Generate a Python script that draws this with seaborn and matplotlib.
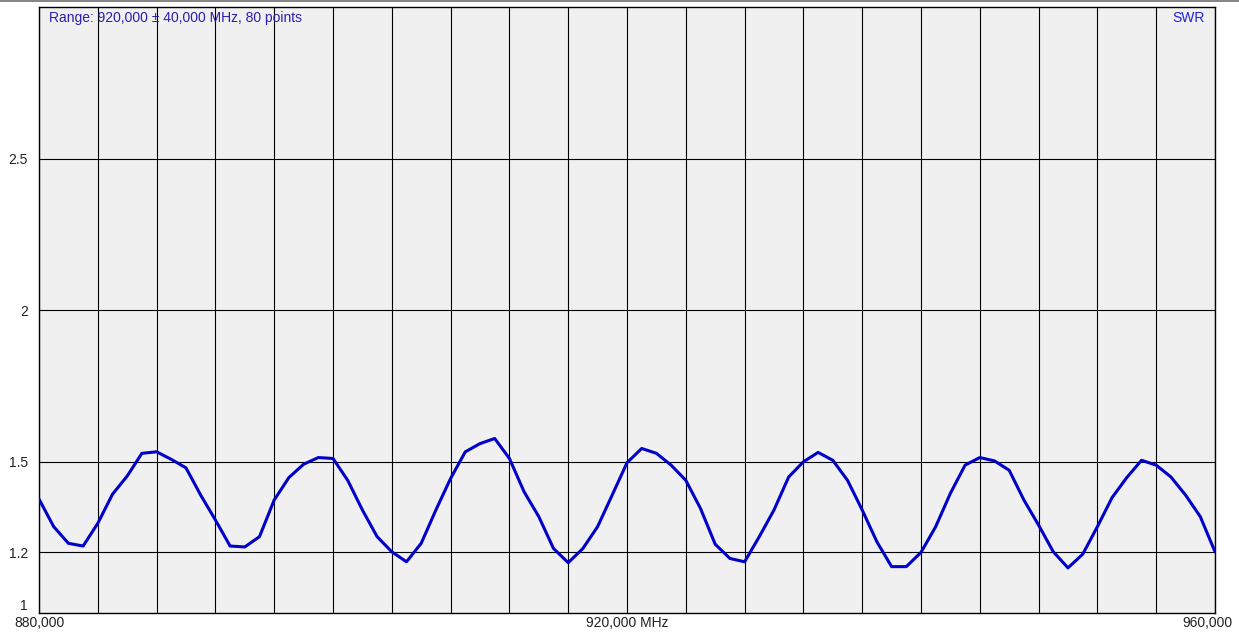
import numpy as np
import pandas as pd
import seaborn as sns
import matplotlib.pyplot as plt
from matplotlib.transforms import ScaledTranslation

# SWR sweep, 880..960 MHz, 1 MHz step (80 points + end)
freq_mhz = list(range(880, 961))
swr = [1.376, 1.285, 1.230, 1.221, 1.296, 1.392, 1.452, 1.527, 1.532, 1.507,
       1.479, 1.389, 1.307, 1.221, 1.218, 1.252, 1.373, 1.447, 1.491, 1.513,
       1.510, 1.438, 1.340, 1.252, 1.202, 1.169, 1.230, 1.340, 1.444, 1.532,
       1.559, 1.576, 1.510, 1.400, 1.318, 1.213, 1.166, 1.213, 1.285, 1.390,
       1.496, 1.543, 1.527, 1.488, 1.438, 1.345, 1.227, 1.180, 1.169, 1.252,
       1.340, 1.449, 1.499, 1.530, 1.504, 1.438, 1.340, 1.235, 1.153, 1.153,
       1.200, 1.285, 1.395, 1.488, 1.513, 1.502, 1.471, 1.373, 1.290, 1.202,
       1.149, 1.194, 1.285, 1.381, 1.447, 1.504, 1.488, 1.449, 1.389, 1.318,
       1.202]

y_ticks = [1, 1.2, 1.5, 2, 2.5]
y_tick_labels = ["1", "1.2", "1.5", "2", "2.5"]
x_ticks = [880, 920, 960]
x_tick_labels = ["880,000", "920,000 MHz", "960,000"]

df = pd.DataFrame({"freq": freq_mhz, "swr": swr})

sns.set_style("white", {"axes.facecolor": "#f0f0f0"})
plt.rcParams["font.family"] = ["Liberation Sans", "DejaVu Sans"]

fig = plt.figure(figsize=(12.39, 6.33), dpi=100)
ax = fig.add_axes([39 / 1239, 20 / 633, (1215 - 39) / 1239, (613 - 7) / 633])

# vertical grid every 4 MHz, horizontal grid at the labelled SWR values
for f in range(880, 961, 4):
    ax.axvline(f, color="black", lw=0.8, zorder=1)
for v in y_ticks[1:]:
    ax.axhline(v, color="black", lw=0.8, zorder=1)

sns.lineplot(data=df, x="freq", y="swr", ax=ax, color="#0000c8", lw=2.2,
             zorder=3)

ax.set_xlim(880, 960)
ax.set_ylim(1, 3)
ax.set_xticks(x_ticks)
ax.set_xticklabels(x_tick_labels, fontsize=10, color="#222222")
ax.set_yticks(y_ticks)
ax.set_yticklabels(y_tick_labels, fontsize=10, color="#222222")
ax.tick_params(axis="x", length=0, pad=2)
ax.tick_params(axis="y", length=0, pad=8)
ax.set_xlabel("")
ax.set_ylabel("")

# first y label sits above the axis, last x label pulled inside
ax.get_yticklabels()[0].set_va("bottom")
last = ax.get_xticklabels()[-1]
last.set_transform(last.get_transform() + ScaledTranslation(-8 / 100, 0, fig.dpi_scale_trans))

for s in ax.spines.values():
    s.set_color("black")
    s.set_linewidth(1.0)

ax.text(0.0085, 0.982, "Range: 920,000 \u00b1 40,000 MHz, 80 points",
        transform=ax.transAxes, ha="left", va="center", fontsize=10,
        color="#2a1fb0")
ax.text(0.9915, 0.982, "SWR", transform=ax.transAxes, ha="right", va="center",
        fontsize=10, color="#2020e0")

fig.add_artist(plt.Line2D([0, 1], [0.999, 0.999], color="#707070", lw=1.2,
                          transform=fig.transFigure))

fig.savefig("out.png", dpi=100)
